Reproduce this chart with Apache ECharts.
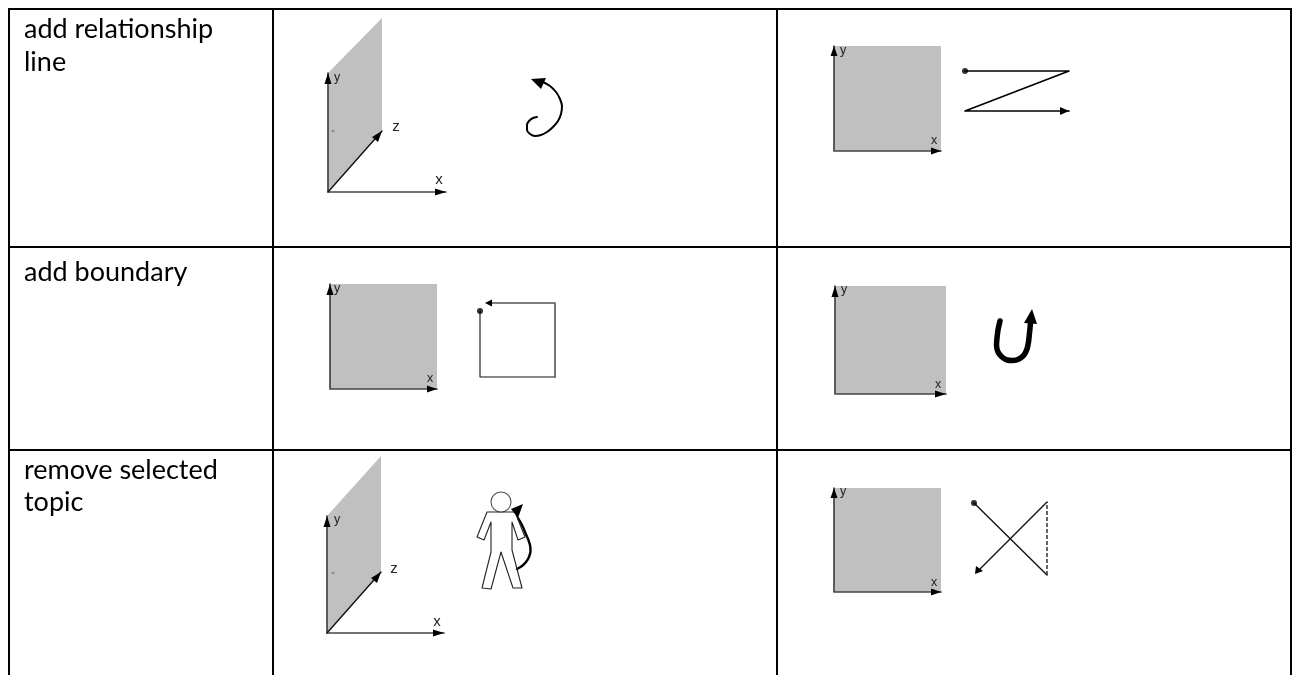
<!DOCTYPE html>
<html>
<head>
<meta charset="utf-8">
<script src="https://cdn.jsdelivr.net/npm/echarts@6/dist/echarts.min.js"></script>
<style>
html, body { margin: 0; padding: 0; background: #fff; }
#main { width: 1292px; height: 675px; }
</style>
</head>
<body>
<div id="main"></div>
<script>
// table text
var rowTitles = [
    { pos: [24, 29], text: 'add relationship' },
    { pos: [24, 62], text: 'line' },
    { pos: [24, 272], text: 'add boundary' },
    { pos: [24, 470], text: 'remove selected' },
    { pos: [24, 502], text: 'topic' }
];
var axisLetters3d = [
    [396, 127, 'z'], [439, 180, 'x'],
    [394, 569, 'z'], [437, 622, 'x']
];
var axisLetters2d = [
    [934, 141, 'x'], [430, 379, 'x'], [938, 385, 'x'], [934, 583, 'x'],
    [337, 78, 'y'], [843, 51, 'y'], [337, 289, 'y'], [844, 290, 'y'], [337, 520, 'y'], [843, 492, 'y']
];

// table rules
var tableLines = [
    [[9, 9], [1291, 9]],
    [[9, 247], [1291, 247]],
    [[9, 450], [1291, 450]],
    [[9, 9], [9, 675]],
    [[273, 9], [273, 675]],
    [[777, 9], [777, 675]],
    [[1291, 9], [1291, 675]]
];

// grey planes
var planes = [
    [[328, 73], [382, 18], [382, 131], [328, 192]],
    [[834, 46], [941, 46], [941, 151], [834, 151]],
    [[330, 284], [437, 284], [437, 389], [330, 389]],
    [[835, 286], [946, 286], [946, 394], [835, 394]],
    [[327, 516], [381, 456], [381, 572], [327, 633]],
    [[834, 488], [941, 488], [941, 592], [834, 592]]
];

// axes: y end, corner, x end
var axisLines = [
    [[328, 73], [328, 192], [446, 192]],
    [[834, 46], [834, 151], [941, 151]],
    [[330, 284], [330, 389], [437, 389]],
    [[835, 286], [835, 394], [946, 394]],
    [[327, 516], [327, 633], [444, 633]],
    [[834, 488], [834, 592], [941, 592]]
];
var zAxes = [
    [[328, 192], [382, 131]],
    [[327, 633], [381, 572]]
];
var ticks = [
    [[332, 131], [334, 131]],
    [[332, 573], [334, 573]]
];

// gestures
var zigzag = [[965, 71], [1069, 71], [965, 111], [1069, 111]];
var squareStart = [[480, 311], [480, 377], [555, 377]];
var squareEnd = [[555, 377], [555, 303], [487, 303]];
var cross = [[974, 503], [1047, 575]];
var crossBack = [[1047, 502], [978, 571]];
var crossDash = [[1047, 575], [1047, 502]];
var hook = [[543, 82], [550, 86], [556, 92], [560, 99], [562, 106], [561, 114], [558, 121], [553, 127], [547, 132], [541, 135], [535, 136], [530, 134], [527, 130], [527, 125], [529, 121], [533, 118], [537, 117]];
var uturn = [[1000, 321], [998, 330], [997, 338], [996.5, 345], [998, 352], [1002, 357], [1007, 360], [1013, 360.5], [1019, 359], [1024, 355], [1027, 349], [1028.5, 342], [1029.5, 333], [1030.5, 323]];
var bodyCurve = [[517, 569], [522, 566], [526, 562], [529, 557], [530.5, 551], [530, 545], [528, 539], [525, 532], [522, 525], [518, 518]];
var person = [[487, 512], [477, 537], [484, 540], [491, 522], [491, 552], [482, 588], [491, 589], [501, 552], [513, 588], [522, 588], [512, 550], [512, 522], [518, 540], [525, 537], [515, 512], [487, 512]];
var head = [[501, 502]];
var dots = [[965, 71], [480, 311], [974, 503]];

// arrow heads: tip, base corner, base corner
var heads = [
    [[328, 73], [324.5, 84], [331.5, 84]],
    [[834, 46], [830.5, 56], [837.5, 56]],
    [[330, 284], [326.5, 295], [333.5, 295]],
    [[835, 286], [831.5, 297], [838.5, 297]],
    [[327, 516], [323.5, 527], [330.5, 527]],
    [[834, 488], [830.5, 498], [837.5, 498]],
    [[446, 192], [435, 188.5], [435, 195.5]],
    [[941, 151], [931, 147.5], [931, 154.5]],
    [[437, 389], [427, 385.5], [427, 392.5]],
    [[946, 394], [935, 390.5], [935, 397.5]],
    [[444, 633], [433, 629.5], [433, 636.5]],
    [[941, 592], [931, 588.5], [931, 595.5]],
    [[382, 131], [372, 137], [378, 142]],
    [[381, 572], [371, 578], [377, 583]],
    [[1069, 111], [1060, 107], [1060, 115]],
    [[485, 303], [492, 299.5], [492, 306.5]],
    [[975, 574], [976, 566], [983, 571]],
    [[531, 79], [546, 78], [541, 89]],
    [[1032, 309], [1024, 323], [1037, 324]],
    [[511, 509], [523, 504], [518, 518]]
];

function pathSeries(points, color, width, opt) {
    return Object.assign({
        type: 'line',
        data: points,
        showSymbol: false,
        symbol: 'none',
        silent: true,
        animation: false,
        lineStyle: { color: color, width: width, cap: 'round', join: 'round' }
    }, opt || {});
}

function polygonSeries(list, fill, z) {
    return {
        type: 'custom',
        silent: true,
        animation: false,
        z: z,
        data: list.map(function (p, i) { return [i]; }),
        encode: { x: [], y: [] },
        renderItem: function (params, api) {
            return {
                type: 'polygon',
                shape: { points: list[api.value(0)].map(function (p) { return api.coord(p); }) },
                style: { fill: fill }
            };
        }
    };
}

function letterSeries(list, font) {
    return {
        type: 'custom', silent: true, animation: false, z: 6,
        data: list.map(function (r, i) { return [i]; }),
        encode: { x: [], y: [] },
        renderItem: function (params, api) {
            var r = list[api.value(0)];
            var c = api.coord([r[0], r[1]]);
            return { type: 'text', x: c[0], y: c[1], style: { text: r[2], fill: '#222', font: font, textAlign: 'center', textVerticalAlign: 'middle' } };
        }
    };
}

var series = [];
series.push(polygonSeries(planes, '#c0c0c0', 1));
tableLines.forEach(function (l) { series.push(pathSeries(l, '#000', 2, { z: 2 })); });
axisLines.forEach(function (l) { series.push(pathSeries(l, '#444', 1.7, { z: 3 })); });
zAxes.forEach(function (l) { series.push(pathSeries(l, '#111', 1.4, { z: 3 })); });
ticks.forEach(function (l) { series.push(pathSeries(l, '#555', 1, { z: 3 })); });
series.push(pathSeries(zigzag, '#000', 1.7, { z: 3 }));
series.push(pathSeries(squareStart, '#111', 1.1, { z: 3 }));
series.push(pathSeries(squareEnd, '#555', 1.6, { z: 3 }));
series.push(pathSeries(cross, '#111', 1.4, { z: 3 }));
series.push(pathSeries(crossBack, '#111', 1.4, { z: 3 }));
series.push(pathSeries(crossDash, '#111', 1.3, { z: 3, lineStyle: { color: '#111', width: 1.3, type: [4, 2] } }));
series.push(pathSeries(hook, '#000', 2, { z: 3, smooth: 0.3 }));
series.push(pathSeries(uturn, '#000', 5.5, { z: 3, smooth: 0.3 }));
series.push(pathSeries(bodyCurve, '#000', 2.4, { z: 3, smooth: 0.3 }));
series.push(pathSeries(person, '#222', 1.1, { z: 4 }));
series.push(polygonSeries(heads, '#000', 5));
series.push({
    type: 'scatter', data: dots, symbolSize: 6, silent: true, animation: false, z: 5,
    itemStyle: { color: '#000' }
});
series.push({
    type: 'scatter', data: head, symbolSize: 20, silent: true, animation: false, z: 5,
    itemStyle: { color: '#fff', borderColor: '#222', borderWidth: 1.1 }
});
// row titles
series.push({
    type: 'custom', silent: true, animation: false, z: 6,
    data: rowTitles.map(function (r, i) { return [i]; }),
    encode: { x: [], y: [] },
    renderItem: function (params, api) {
        var r = rowTitles[api.value(0)];
        var c = api.coord(r.pos);
        return { type: 'text', x: c[0], y: c[1], style: { text: r.text, fill: '#000', font: '27px Lato', textAlign: 'left', textVerticalAlign: 'middle' } };
    }
});
series.push(letterSeries(axisLetters3d, '15px "Liberation Sans"'));
series.push(letterSeries(axisLetters2d, '12.5px "Liberation Sans"'));

var myChart = echarts.init(document.getElementById('main'));
myChart.setOption({
    animation: false,
    grid: { left: 0, right: 0, top: 0, bottom: 0 },
    xAxis: { type: 'value', min: 0, max: 1292, show: false },
    yAxis: { type: 'value', min: 0, max: 675, inverse: true, show: false },
    series: series
});
</script>
</body>
</html>
